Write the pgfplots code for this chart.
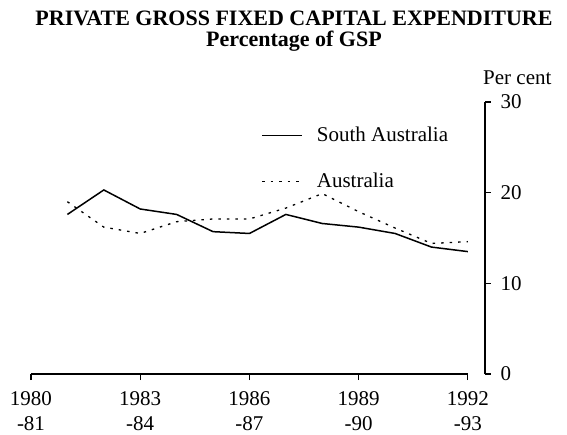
\documentclass[border=0pt]{standalone}
\usepackage{pgfplots}
\pgfplotsset{compat=1.18}
\usepackage{fontspec}
\setmainfont{Liberation Serif}
\begin{document}
\begin{tikzpicture}
\path (-31pt,-58pt) rectangle (536pt,374pt);
\begin{axis}[at={(0pt,0pt)}, anchor=south west, scale only axis,
  width=454pt, height=272pt,
  xmin=1980, xmax=1992.47, ymin=0, ymax=30,
  axis x line*=bottom, axis y line*=right,
  x axis line style={-, shorten >=17pt, line width=1.2pt},
  y axis line style={-, line width=1.5pt},
  every tick/.style={black, line width=1.1pt},
  tick align=outside, major tick length=6pt,
  xtick={1980,1983,1986,1989,1992},
  xticklabels={{1980\\-81},{1983\\-84},{1986\\-87},{1989\\-90},{1992\\-93}},
  x tick label style={align=center, font=\fontsize{21}{25}\selectfont, yshift=-8pt},
  ytick={0,10,20,30},
  y tick label style={font=\fontsize{21}{22}\selectfont, xshift=6pt},
  /pgf/number format/assume math mode=true,
  legend style={draw=none, fill=none, at={(0.507,0.915)}, anchor=north west,
    font=\fontsize{21}{22}\selectfont, row sep=26pt, inner sep=0pt},
  legend cell align=left,
  legend image code/.code={\draw[#1] (0pt,0pt) -- (40pt,0pt); \path (52pt,0pt);},
]
\addplot[black, line width=1.5pt] coordinates {
(1981,17.6) (1982,20.3) (1983,18.2) (1984,17.6) (1985,15.7) (1986,15.5)
(1987,17.6) (1988,16.6) (1989,16.2) (1990,15.5) (1991,14.0) (1992,13.5)};
\addlegendentry{South Australia}
\addplot[black, line width=1.3pt, dash pattern=on 2.5pt off 6pt] coordinates {
(1981,19.0) (1982,16.2) (1983,15.5) (1984,16.8) (1985,17.1) (1986,17.1)
(1987,18.3) (1988,19.9) (1989,17.9) (1990,16.1) (1991,14.4) (1992,14.6)};
\addlegendentry{Australia}
\end{axis}
\node[font=\bfseries\fontsize{22}{24}\selectfont] at (263pt,356pt) {PRIVATE GROSS FIXED CAPITAL EXPENDITURE};
\node[font=\bfseries\fontsize{22}{24}\selectfont] at (263pt,333pt) {Percentage of GSP};
\node[font=\fontsize{21}{22}\selectfont, anchor=west, inner sep=0pt] at (452pt,296pt) {Per cent};
\end{tikzpicture}
\end{document}
